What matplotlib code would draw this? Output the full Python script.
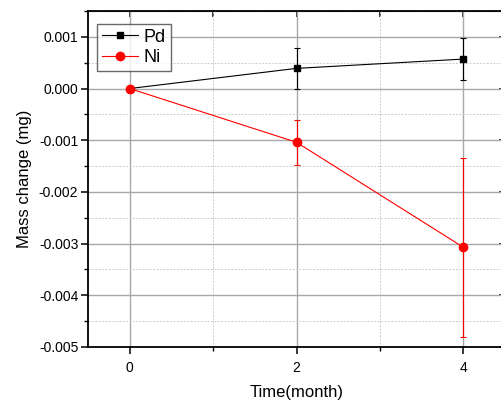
import matplotlib.pyplot as plt
from matplotlib.lines import Line2D
from matplotlib.ticker import MultipleLocator

plt.rcParams['font.family'] = ['Liberation Sans', 'DejaVu Sans']

# Data
months = [0, 2, 4]
pd_mass = [0.0, 0.00039, 0.00057]
pd_err = [0.0, 0.00039, 0.00041]
ni_mass = [0.0, -0.00104, -0.00307]
ni_err = [0.0, 0.00043, 0.00173]

fig = plt.figure(figsize=(5.02, 4.01), dpi=100)
ax = fig.add_axes([88 / 502, 54 / 401, 417 / 502, 336 / 401])

ax.errorbar(months, pd_mass, yerr=pd_err, color='black', marker='s', markersize=5,
            linewidth=0.8, elinewidth=0.8, capsize=2.5, capthick=0.8, zorder=3)
ax.errorbar(months, ni_mass, yerr=ni_err, color='red', marker='o', markersize=6,
            linewidth=0.8, elinewidth=0.8, capsize=2.5, capthick=0.8, zorder=4)

ax.set_xlim(-0.5, 4.5)
ax.set_ylim(-0.005, 0.0015)
ax.xaxis.set_major_locator(MultipleLocator(2))
ax.xaxis.set_minor_locator(MultipleLocator(1))
ax.yaxis.set_major_locator(MultipleLocator(0.001))
ax.yaxis.set_minor_locator(MultipleLocator(0.0005))
ax.yaxis.set_major_formatter(plt.FormatStrFormatter('%.3f'))

ax.grid(True, which='major', color='#a8a8a8', linewidth=1, linestyle='-')
ax.grid(True, which='minor', color='#cccccc', linewidth=0.7, linestyle=(0, (2, 1.5)))
ax.set_axisbelow(True)

for s in ax.spines.values():
    s.set_linewidth(1.3)
ax.tick_params(which='major', direction='out', length=5, width=1.1, labelsize=10, pad=2)
ax.tick_params(which='minor', direction='out', length=3, width=1)
ax.tick_params(axis='x', which='major', pad=5)

# inward ticks on top and right
top = ax.secondary_xaxis('top')
top.xaxis.set_major_locator(MultipleLocator(1))
top.tick_params(direction='in', length=4, width=1.1, labeltop=False)
right = ax.secondary_yaxis('right')
right.yaxis.set_major_locator(MultipleLocator(0.001))
right.yaxis.set_minor_locator(MultipleLocator(0.0005))
right.tick_params(which='major', direction='in', length=4, width=1.1, labelright=False)
right.tick_params(which='minor', direction='in', length=2, width=1)

ax.set_xlabel('Time(month)', fontsize=12, labelpad=7)
ax.set_ylabel('Mass change (mg)', fontsize=12, labelpad=5)

handles = [Line2D([], [], color='black', marker='s', markersize=5, linewidth=0.8),
           Line2D([], [], color='red', marker='o', markersize=6, linewidth=0.8)]
leg = ax.legend(handles, ['Pd', 'Ni'], loc='upper left',
                bbox_to_anchor=(9 / 417, 1 - 13 / 336), borderaxespad=0,
                fontsize=13, frameon=True, fancybox=False, edgecolor='#444444',
                handlelength=2.0, handletextpad=0.35, borderpad=0.25, labelspacing=0.22)
leg.get_frame().set_linewidth(1)

fig.savefig('out.png', dpi=100)
